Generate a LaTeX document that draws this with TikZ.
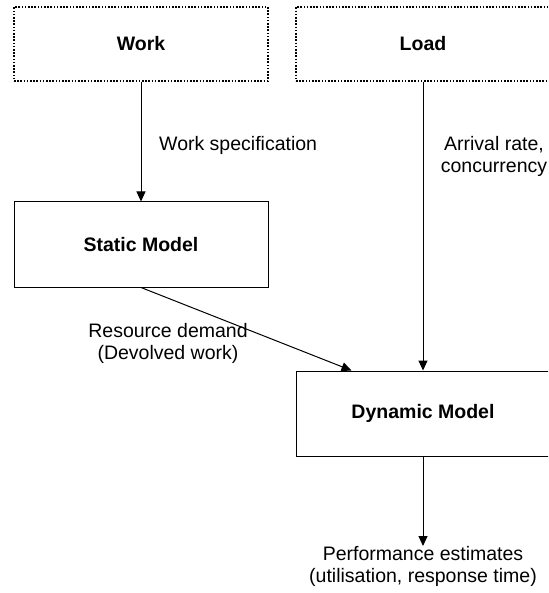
\documentclass[tikz,border=0pt]{standalone}
\usepackage{fontspec}
\setmainfont{Liberation Sans}
\usetikzlibrary{arrows.meta,calc}

\newcommand{\labelsize}{\fontsize{19.5}{22}\selectfont}

\tikzset{
  block/.style={draw=black, line width=1pt, rectangle, minimum width=254pt, minimum height=85pt, inner sep=0pt, font=\labelsize\bfseries},
  source/.style={block, minimum height=74pt, line width=1.1pt, dash pattern=on 1.6pt off 1.6pt},
  lbl/.style={align=center, inner sep=0pt, font=\labelsize},
  flow/.style={draw=black, line width=1pt, -{Triangle[length=10pt,width=9pt]}},
}

\begin{document}
\begin{tikzpicture}[x=1pt, y=-1pt]
  \useasboundingbox (0,0) rectangle (548,593);
  \clip (0,0) rectangle (548,593);

  % inputs
  \node[source] (work) at (141,44) {Work};
  \node[source] (load) at (423,44) {Load};

  % models
  \node[block] (static) at (141,244.5) {Static Model};
  \node[block] (dynamic) at (423,413.5) {Dynamic Model};

  % output
  \node[lbl, anchor=north] (perf) at (423,546) {Performance estimates\\(utilisation, response time)};

  % edge labels
  \node[lbl, anchor=west] (workspec) at (159,145) {Work specification};
  \node[lbl] (arrival) at (494,156) {Arrival rate,\\concurrency};
  \node[lbl] (demand) at (168,343) {Resource demand\\(Devolved work)};

  % connectors
  \coordinate (demandin) at ($(dynamic.north west)+(56,0)$);
  \draw[flow] (work.south) -- (static.north);
  \draw[flow] (load.south) -- (dynamic.north);
  \draw[flow] (static.south) -- (demandin);
  \draw[flow] (dynamic.south) -- (perf.north);
\end{tikzpicture}
\end{document}
